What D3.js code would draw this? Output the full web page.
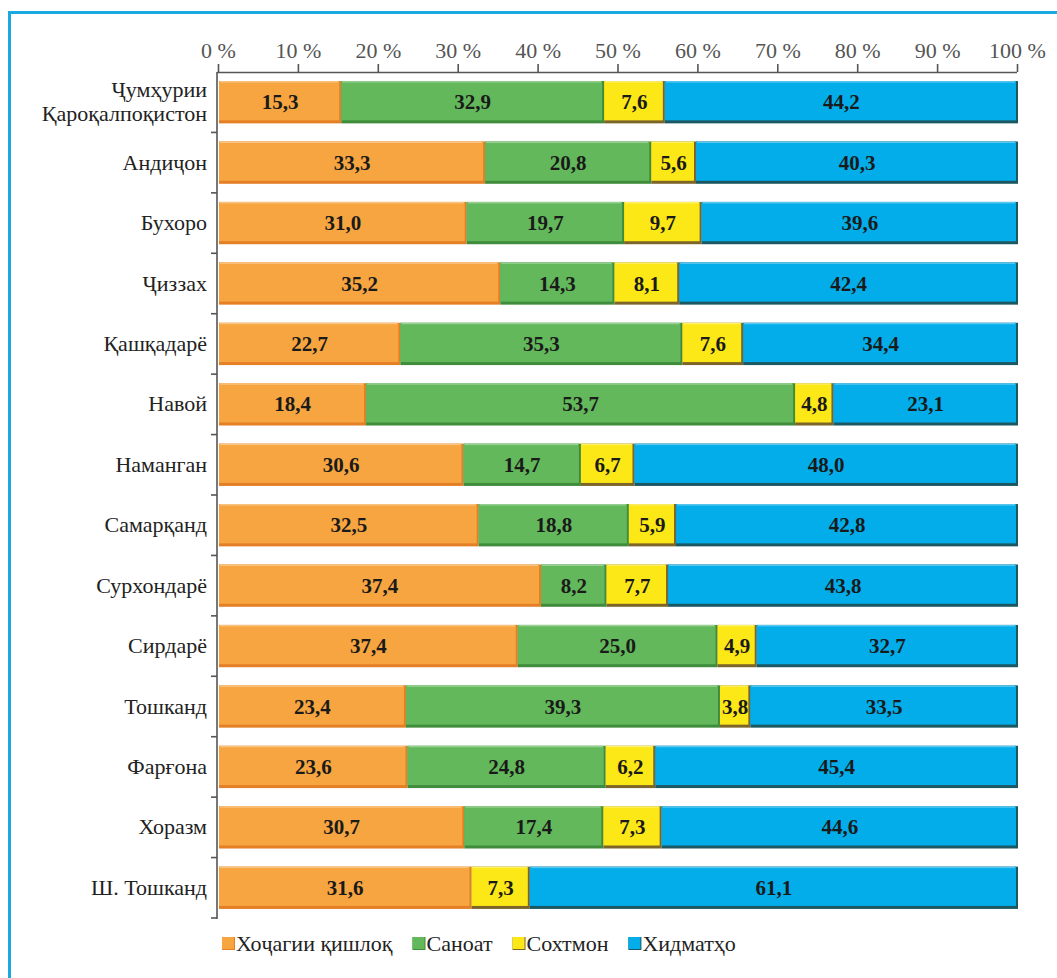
<!DOCTYPE html>
<html>
<head>
<meta charset="utf-8">
<script src="https://cdn.jsdelivr.net/npm/d3@7"></script>
</head>
<body style="margin:0">
<svg id="chart" width="1057" height="978"></svg>
<script>
var FONT = "'Liberation Serif', 'Times New Roman', serif";

// regions (top to bottom)
var regions = ["Ҷумҳурии\nҚароқалпоқистон", "Андиҷон", "Бухоро", "Ҷиззах", "Қашқадарё", "Навой",
    "Наманган", "Самарқанд", "Сурхондарё", "Сирдарё", "Тошканд", "Фарғона", "Хоразм", "Ш. Тошканд"];
var series = ["Хоҷагии қишлоқ", "Саноат", "Сохтмон", "Хидматҳо"];

// shares, % (bar widths as drawn)
var agri     = [15.3, 33.3, 31.0, 35.2, 22.7, 18.4, 30.6, 32.5, 40.3, 37.4, 23.4, 23.6, 30.7, 31.6];
var industry = [32.9, 20.8, 19.7, 14.3, 35.3, 53.7, 14.7, 18.8, 8.2, 25.0, 39.3, 24.8, 17.4, 0];
var building = [7.6, 5.6, 9.7, 8.1, 7.6, 4.8, 6.7, 5.9, 7.7, 4.9, 3.8, 6.2, 7.3, 7.3];
var services = [44.2, 40.3, 39.6, 42.4, 34.4, 23.1, 48.0, 42.8, 43.8, 32.7, 33.5, 45.4, 44.6, 61.1];
// printed label differs from the bar in one place
var labelFix = {"Сурхондарё|0": "37,4"};

var ticks = [0, 10, 20, 30, 40, 50, 60, 70, 80, 90, 100];

var fills   = ["#f6a540", "#62b85a", "#fde817", "#02adea"];
var shadows = ["#e47f26", "#3f8c3c", "#7d6428", "#1c5862"];

var svg = d3.select("#chart");

// light blue frame
svg.append("path")
    .attr("d", "M9.5,978 V12.5 H1057")
    .attr("fill", "none")
    .attr("stroke", "#1ba9e1")
    .attr("stroke-width", 3);

var table = regions.map(function (r, i) {
    return {region: r, s0: agri[i], s1: industry[i], s2: building[i], s3: services[i]};
});
var stack = d3.stack().keys(["s0", "s1", "s2", "s3"]);
var layers = stack(table);

var x = d3.scaleLinear().domain([0, 100]).range([218, 1017]);
var y = d3.scaleBand().domain(regions).range([72, 918]).paddingInner(0.3).paddingOuter(0.15);

// top axis
var xAxis = d3.axisTop(x).tickValues(ticks).tickSize(8).tickSizeOuter(0)
    .tickFormat(function (d) { return d + " %"; });
var gx = svg.append("g").attr("transform", "translate(0,72)").call(xAxis);
gx.attr("font-family", null).attr("font-size", null);
gx.select(".domain").attr("stroke", "#555").attr("stroke-width", 1.6).attr("d", "M217,0.5H1017");
gx.selectAll(".tick line").attr("stroke", "#555").attr("stroke-width", 1.6);
gx.selectAll(".tick text")
    .attr("y", -14)
    .attr("fill", "#555")
    .style("font-family", FONT)
    .style("font-size", "22px");

// left axis with ticks between categories
var gy = svg.append("g");
gy.append("line")
    .attr("x1", 217).attr("x2", 217).attr("y1", 72).attr("y2", 919)
    .attr("stroke", "#555").attr("stroke-width", 1.6);
var step = y.step();
d3.range(1, regions.length + 1).forEach(function (i) {
    var yy = 72 + i * step;
    gy.append("line")
        .attr("x1", 211).attr("x2", 217).attr("y1", yy).attr("y2", yy)
        .attr("stroke", "#555").attr("stroke-width", 1.6);
});

regions.forEach(function (r) {
    var lines = r.split("\n");
    var cy = y(r) + y.bandwidth() / 2;
    lines.forEach(function (ln, k) {
        svg.append("text")
            .attr("x", 207)
            .attr("y", cy + 7 + (k - (lines.length - 1) / 2) * 24)
            .attr("text-anchor", "end")
            .attr("fill", "#222")
            .style("font-family", FONT)
            .style("font-size", "22px")
            .text(ln);
    });
});

// bars
var bh = y.bandwidth();
layers.forEach(function (layer, si) {
    var g = svg.append("g");
    layer.forEach(function (d) {
        var w = x(d[1]) - x(d[0]);
        if (w <= 0) return;
        var x0 = x(d[0]) + 1, y0 = y(d.data.region);
        // shadow edge (bottom/right)
        g.append("rect")
            .attr("x", x0).attr("y", y0)
            .attr("width", w).attr("height", bh)
            .attr("fill", shadows[si]);
        g.append("rect")
            .attr("x", x0).attr("y", y0)
            .attr("width", Math.max(w - 2, 0)).attr("height", bh - 3)
            .attr("fill", fills[si]);
        // light top edge
        g.append("rect")
            .attr("x", x0 + 1).attr("y", y0)
            .attr("width", Math.max(w - 4, 0)).attr("height", 1.5)
            .attr("fill", "#fff").attr("opacity", 0.35);
    });
});

// value labels
layers.forEach(function (layer, si) {
    layer.forEach(function (d) {
        var v = d[1] - d[0];
        if (v <= 0) return;
        var key = d.data.region + "|" + si;
        var txt = labelFix[key] || d3.format(".1f")(v).replace(".", ",");
        svg.append("text")
            .attr("x", x((d[0] + d[1]) / 2) + 1)
            .attr("y", y(d.data.region) + bh / 2 + 7)
            .attr("text-anchor", "middle")
            .attr("fill", "#1a1a1a")
            .style("font-family", FONT)
            .style("font-size", "21px")
            .style("font-weight", "bold")
            .text(txt);
    });
});

// legend
var lx = 222;
series.forEach(function (s, i) {
    svg.append("rect")
        .attr("x", lx).attr("y", 937).attr("width", 13).attr("height", 13)
        .attr("fill", shadows[i]);
    svg.append("rect")
        .attr("x", lx).attr("y", 937).attr("width", 12).attr("height", 12)
        .attr("fill", fills[i]);
    var t = svg.append("text")
        .attr("x", lx + 14)
        .attr("y", 951)
        .attr("fill", "#222")
        .style("font-family", FONT)
        .style("font-size", "22px")
        .text(s);
    lx += 14 + t.node().getComputedTextLength() + 20;
});
</script>
</body>
</html>
